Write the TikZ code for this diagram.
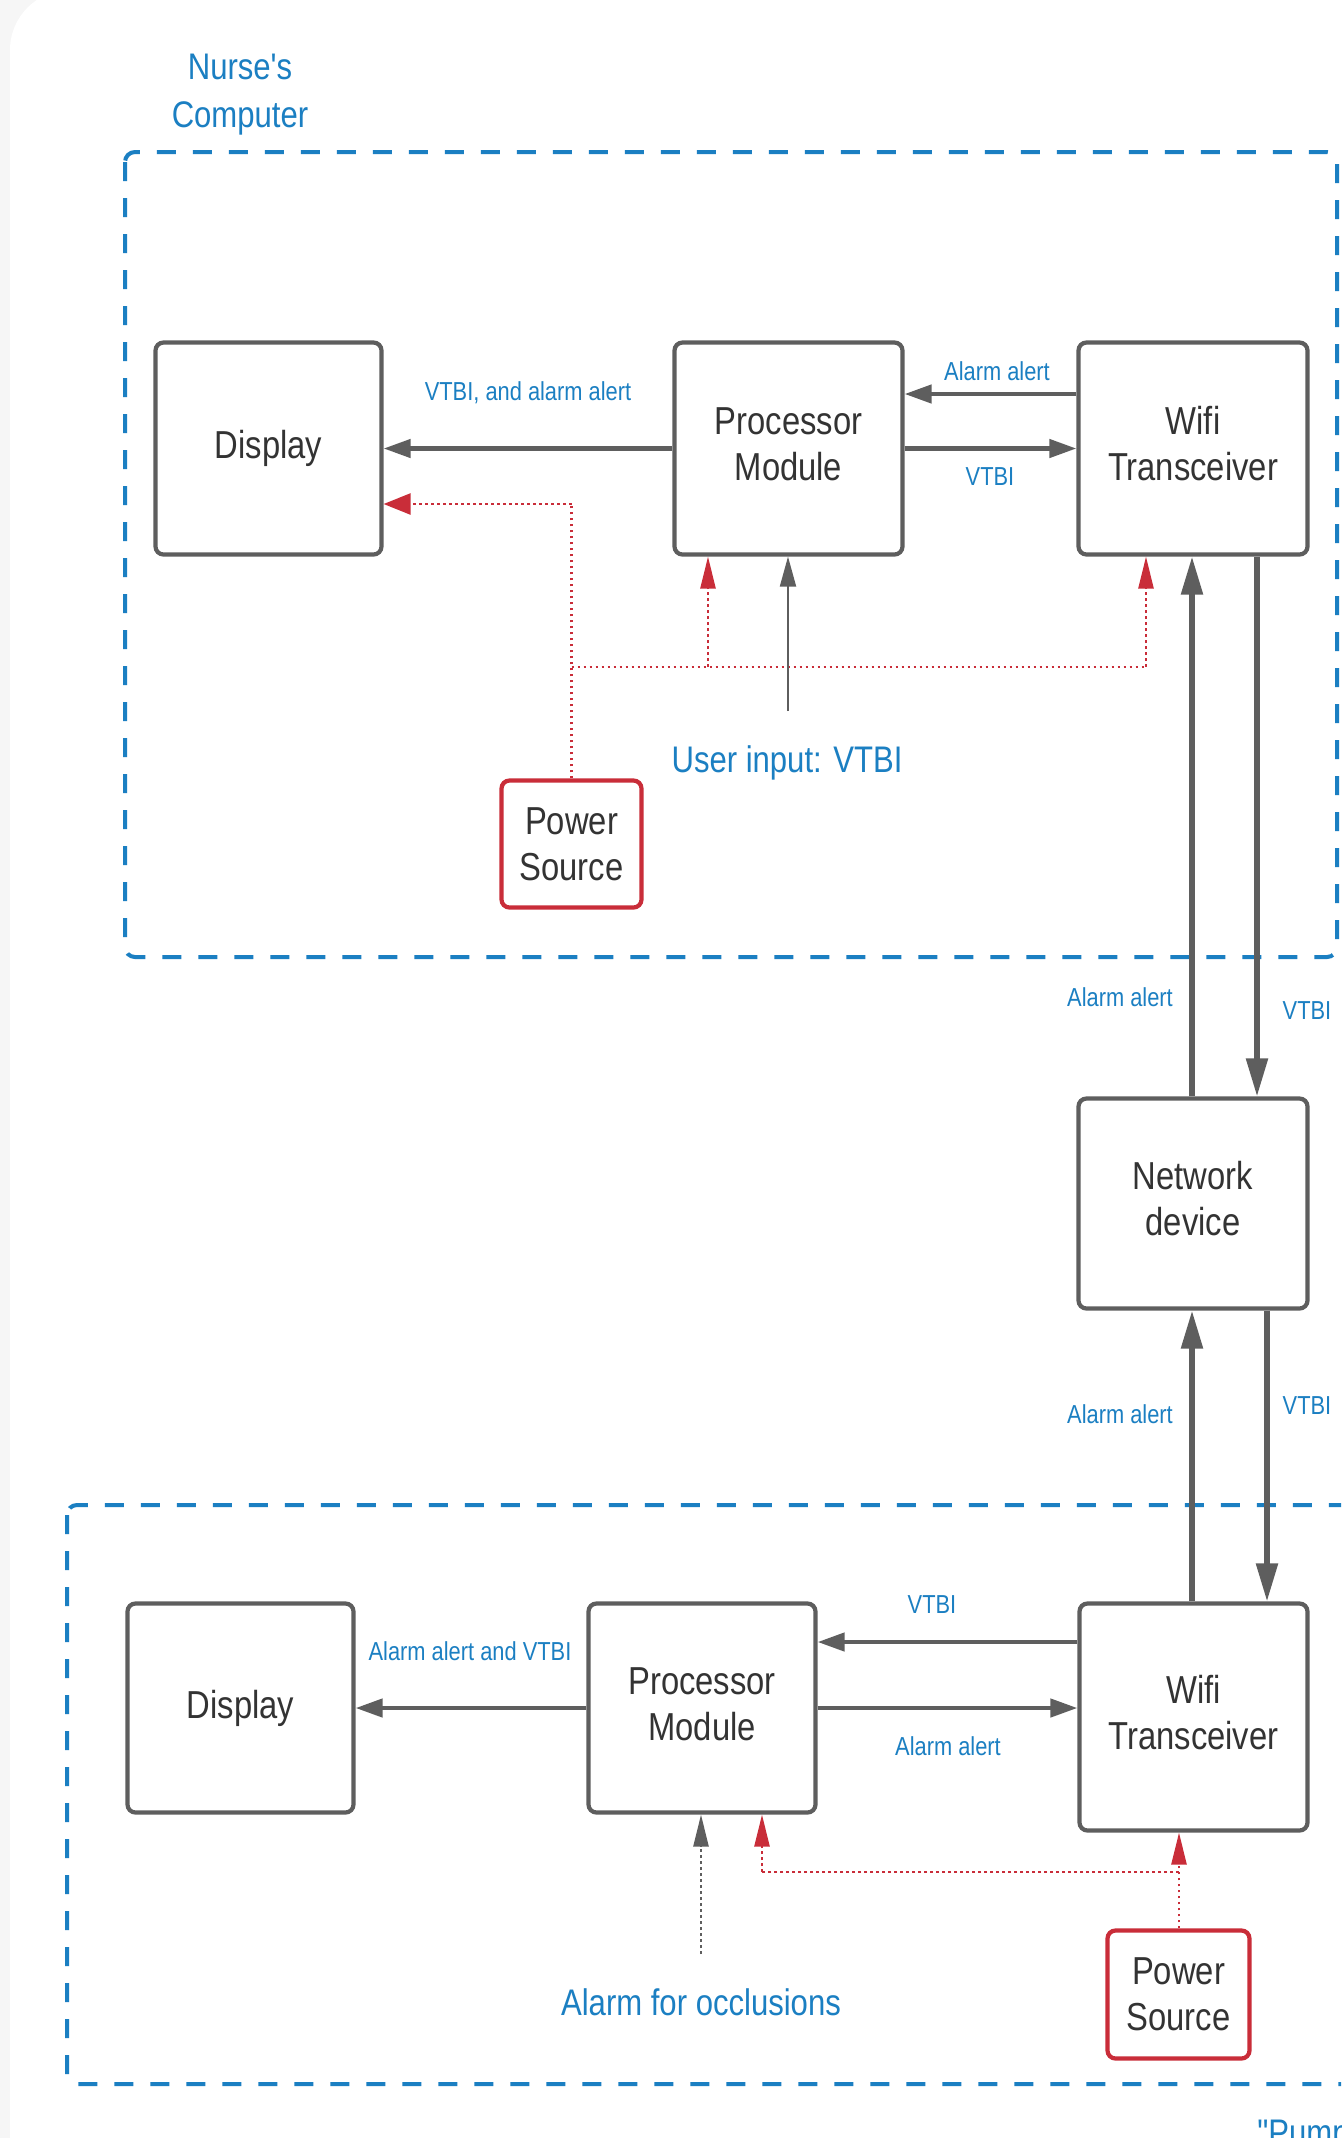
\documentclass[tikz,border=0pt]{standalone}
\usepackage{fontspec}
\setmainfont[FakeStretch=0.84, Ligatures=TeXOff]{Liberation Sans}
\usetikzlibrary{arrows.meta}
\definecolor{boxgray}{HTML}{5E5E5E}
\definecolor{textdark}{HTML}{333333}
\definecolor{lblue}{HTML}{1B7FC2}
\definecolor{lred}{HTML}{C92D39}
\definecolor{bggray}{HTML}{F6F6F6}
\newcommand{\liftt}[2]{\raisebox{#1}{\begin{tabular}{@{}c@{}}#2\end{tabular}}}
\tikzset{
  box/.style={draw=boxgray, line width=2.1pt, rounded corners=4pt, fill=white, text=textdark,
    font=\fontsize{19.5}{23}\selectfont, align=center, inner sep=0pt},
  pbox/.style={box, draw=lred},
  lbl/.style={text=lblue, font=\fontsize{13}{15}\selectfont, inner sep=0pt},
  biglbl/.style={text=lblue, font=\fontsize{18.5}{24}\selectfont, align=center, inner sep=0pt},
  grp/.style={draw=lblue, line width=2pt, dash pattern=on 9.5pt off 8.5pt, rounded corners=5pt},
  harrow/.style={draw=boxgray, line width=2.2pt, -{Triangle[length=13.5pt,width=9pt]}, color=boxgray},
  varrow/.style={draw=boxgray, line width=2.7pt, -{Triangle[length=19pt,width=10.5pt]}, color=boxgray},
  thinarrow/.style={draw=boxgray, line width=1pt, -{Triangle[length=15pt,width=8pt]}, color=boxgray},
  reddot/.style={draw=lred, line width=1.25pt, dash pattern=on 1.4pt off 1.6pt},
  redtipv/.style={reddot, -{Triangle[length=16pt,width=7.5pt]}, color=lred},
  redtiph/.style={reddot, -{Triangle[length=13.5pt,width=10.5pt]}, color=lred},
  graydot/.style={draw=boxgray, line width=1.25pt, dash pattern=on 1.4pt off 1.6pt, -{Triangle[length=16pt,width=7.5pt]}, color=boxgray},
}
\begin{document}
\begin{tikzpicture}[x=0.5pt,y=-0.5pt]
\useasboundingbox (0,0) rectangle (1341,2138);
\clip (0,0) rectangle (1341,2138);
\fill[bggray] (0,0) rectangle (1341,2138);
\fill[white, rounded corners=30pt] (10,-10) rectangle (1420,2220);

% group frames
\draw[grp] (125,152) rectangle (1337,957);
\draw[grp] (67,1505) rectangle (1400,2084);

\node[biglbl] (nurse) at (240,95) {Nurse's\\Computer};

% top boxes
\node[box, minimum width=113pt, minimum height=106pt] (disp1) at (268.5,448.5) {Display};
\node[box, minimum width=114pt, minimum height=106pt] (proc1) at (788.5,448.5) {\liftt{2pt}{Processor\\Module}};
\node[box, minimum width=114.5pt, minimum height=106pt] (wifi1) at (1193,448.5) {\liftt{2.5pt}{Wifi\\Transceiver}};
\node[pbox, minimum width=70pt, minimum height=63.5pt] (pow1) at (571.5,844) {Power\\Source};
\node[box, minimum width=114.5pt, minimum height=105pt] (net) at (1193,1203.5) {\liftt{3.5pt}{Network\\device}};

% bottom boxes
\node[box, minimum width=113pt, minimum height=104.5pt] (disp2) at (240.5,1708) {Display};
\node[box, minimum width=113.5pt, minimum height=104.5pt] (proc2) at (702,1708) {\liftt{3pt}{Processor\\Module}};
\node[box, minimum width=114pt, minimum height=113.5pt] (wifi2) at (1193.5,1717) {\liftt{2.5pt}{Wifi\\Transceiver}};
\node[pbox, minimum width=71pt, minimum height=64pt] (pow2) at (1178.5,1994.5) {Power\\Source};

% top horizontal connectors
\draw[harrow] (proc1.west) -- (disp1.east);
\node[lbl] (l1) at (528,393) {VTBI, and alarm alert};
\coordinate (ya1) at (0,394);
\draw[harrow] (wifi1.west |- ya1) -- (proc1.east |- ya1);
\node[lbl] (l2) at (997,371) {Alarm alert};
\draw[harrow] (proc1.east) -- (wifi1.west);
\node[lbl] (l3) at (990,477) {VTBI};

% top red power lines
\coordinate (rc1) at (571.5,504);
\coordinate (rj1) at (571.5,667);
\coordinate (rx1) at (1146,667);
\coordinate (rx2) at (708,667);
\draw[reddot] (pow1.north) -- (rc1);
\draw[redtiph] (rc1) -- (rc1 -| disp1.east);
\draw[reddot] (rj1) -- (rx1);
\draw[redtipv] (rx1) -- (rx1 |- wifi1.south);
\draw[redtipv] (rx2) -- (rx2 |- proc1.south);

% user input
\coordinate (ui) at (788,711);
\draw[thinarrow] (ui) -- (ui |- proc1.south);
\node[biglbl] (uil) at (787,763) {User input: VTBI};

% vertical links top
\coordinate (vu) at (1192,0);
\coordinate (vd1) at (1257,0);
\coordinate (vd2) at (1267,0);
\draw[varrow] (net.north -| vu) -- (wifi1.south -| vu);
\draw[varrow] (wifi1.south -| vd1) -- (net.north -| vd1);
\node[lbl] (l4) at (1120,997) {Alarm alert};
\node[lbl] (l5) at (1307,1011) {VTBI};

% vertical links bottom
\draw[varrow] (wifi2.north -| vu) -- (net.south -| vu);
\draw[varrow] (net.south -| vd2) -- (wifi2.north -| vd2);
\node[lbl] (l6) at (1120,1414) {Alarm alert};
\node[lbl] (l7) at (1307,1406) {VTBI};

% bottom horizontal connectors
\coordinate (yb1) at (0,1642);
\draw[harrow] (wifi2.west |- yb1) -- (proc2.east |- yb1);
\node[lbl] (l8) at (932,1605) {VTBI};
\draw[harrow] (proc2.east) -- (proc2.east -| wifi2.west);
\node[lbl] (l9) at (948,1746) {Alarm alert};
\draw[harrow] (proc2.west) -- (disp2.east);
\node[lbl] (l10) at (470,1651) {Alarm alert and VTBI};

% occlusion alarm
\coordinate (oc) at (701,1954);
\draw[graydot] (oc) -- (oc |- proc2.south);
\node[biglbl] (ocl) at (701,2002) {Alarm for occlusions};

% bottom red power lines
\coordinate (rj2) at (1179,1872);
\coordinate (rx3) at (762,1872);
\draw[redtipv] (pow2.north -| rj2) -- (wifi2.south -| rj2);
\draw[reddot] (rj2) -- (rx3);
\draw[redtipv] (rx3) -- (rx3 |- proc2.south);

\node[biglbl, anchor=base west] (pump) at (1257,2145) {"Pump};
\end{tikzpicture}
\end{document}
